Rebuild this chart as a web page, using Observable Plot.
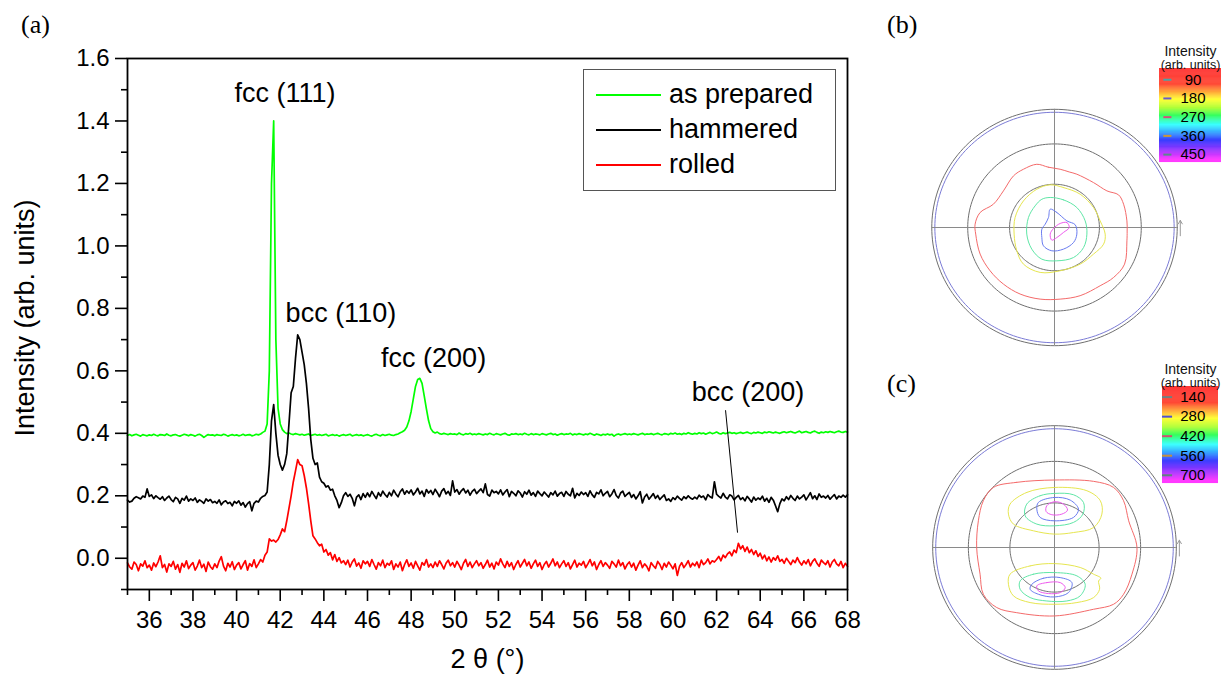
<!DOCTYPE html>
<html>
<head>
<meta charset="utf-8">
<script src="https://cdn.jsdelivr.net/npm/d3@7"></script>
<script src="https://cdn.jsdelivr.net/npm/@observablehq/plot@0.6"></script>
<style>
  html, body { margin: 0; padding: 0; background: #fff; }
  body { position: relative; width: 1227px; height: 682px; overflow: hidden; font-family: "Liberation Sans", Arial, sans-serif; }
  .abs { position: absolute; }
  .panel-tag { position: absolute; font-family: "Liberation Serif", "Times New Roman", serif; font-size: 26px; line-height: 1; color: #000; }
  #legend { position: absolute; left: 583px; top: 69px; width: 251px; height: 120px; border: 1px solid #555; background: #fff; }
  #legend .key { position: absolute; left: 12px; width: 65px; height: 2px; }
  #legend .name { position: absolute; left: 85px; font-size: 27px; line-height: 27px; color: #000; white-space: nowrap; }
</style>
</head>
<body>
<div class="panel-tag" style="left:21px; top:12px">(a)</div>
<div class="panel-tag" style="left:887px; top:12px">(b)</div>
<div class="panel-tag" style="left:887px; top:371px">(c)</div>
<div id="main" class="abs" style="left:0; top:0"></div>
<div id="legend"></div>
<div id="poleB" class="abs" style="left:919px; top:97px"></div>
<div id="poleC" class="abs" style="left:920px; top:413px"></div>
<div id="barB" class="abs" style="left:1150px; top:34px"></div>
<div id="barC" class="abs" style="left:1150px; top:348px"></div>
<script>
// ---------------- (a) XRD patterns ----------------
// Scans start at 2θ = 35° with a 0.1° step; intensities in 10^-3 arb. units.
const twoThetaStart = 35;
const twoThetaStep = 0.1;

const asPrepared = [
  393,396,392,395,397,394,391,396,394,392, // 35
  395,393,397,394,392,396,395,393,398,394, // 36
  392,395,396,393,391,394,397,395,392,396, // 37
  394,391,395,397,393,387,392,396,394,395, // 38
  392,396,394,393,397,395,391,394,396,393, // 39
  395,392,394,397,393,395,396,392,394,397, // 40
  395,398,403,407,430,600,1200,1400,700,480, // 41
  430,412,404,399,401,398,396,399,397,395, // 42
  397,394,396,398,393,395,397,394,396,393, // 43
  395,397,392,394,396,393,395,391,394,396, // 44
  393,395,397,392,394,396,393,395,392,394, // 45
  396,393,391,395,397,394,392,396,393,395, // 46
  397,394,393,396,398,402,405,410,420,440, // 47
  470,510,550,572,576,560,520,478,440,415, // 48
  405,401,404,399,397,400,398,396,399,397, // 49
  398,396,401,397,395,399,397,400,396,398, // 50
  396,399,397,395,398,396,400,397,395,399, // 51
  397,395,398,400,396,394,398,397,399,396, // 52
  398,396,400,397,395,399,396,398,397,395, // 53
  399,397,395,398,400,396,398,394,397,399, // 54
  396,398,397,400,395,398,396,399,397,395, // 55
  398,396,400,397,394,398,396,393,397,395, // 56
  398,395,397,391,396,398,395,397,399,396, // 57
  398,396,399,397,395,398,400,396,398,397, // 58
  399,396,398,400,397,395,399,398,396,400, // 59
  398,401,397,399,396,400,398,402,399,397, // 60
  400,398,402,399,401,397,400,403,399,401, // 61
  404,400,398,402,399,401,403,400,402,399, // 62
  401,403,400,402,404,401,399,403,401,404, // 63
  402,400,404,402,405,403,401,404,402,400, // 64
  403,405,402,404,406,403,401,404,407,402, // 65
  404,406,403,401,405,407,403,400,404,402, // 66
  405,403,406,404,402,405,407,404,403,406, // 67
  404                                      // 68
];

const hammered = [
  186,180,183,192,197,194,190,199,195,222, // 35
  198,203,191,200,194,189,197,185,193,199, // 36
  188,181,195,190,176,192,186,199,183,190, // 37
  185,193,179,187,182,176,190,183,188,178, // 38
  182,176,187,171,180,184,175,179,168,182, // 39
  176,184,170,178,164,175,181,152,176,183, // 40
  180,192,198,201,212,300,440,492,400,330, // 41
  300,282,300,335,430,530,550,640,715,700, // 42
  660,620,560,480,380,320,300,305,260,245, // 43
  240,228,232,218,221,200,185,162,178,200, // 44
  210,198,205,192,168,196,203,188,207,195, // 45
  209,197,214,202,191,210,199,215,204,196, // 46
  211,200,218,206,197,213,222,205,216,208, // 47
  219,203,212,224,206,215,198,220,209,217, // 48
  204,221,210,197,215,223,206,214,201,248, // 49
  212,220,205,216,223,209,218,202,214,221, // 50
  207,215,222,210,238,204,199,218,210,214, // 51
  206,219,203,212,220,197,214,208,200,216, // 52
  209,196,213,205,218,202,210,198,215,207, // 53
  200,212,204,196,210,203,215,199,207,211, // 54
  198,214,205,200,224,193,208,201,212,204, // 55
  210,198,216,203,195,211,206,219,200,208, // 56
  214,197,206,220,201,193,209,215,198,205, // 57
  211,195,204,190,200,213,177,196,205,189, // 58
  198,207,192,201,188,196,203,185,190,182, // 59
  194,188,199,192,186,197,191,200,193,189, // 60
  196,190,202,195,199,187,204,197,193,245, // 61
  205,198,193,208,196,190,203,199,187,195, // 62
  201,188,194,184,198,190,180,196,186,193, // 63
  188,199,183,192,179,195,186,168,149,175, // 64
  190,184,197,188,201,192,185,199,190,196, // 65
  203,187,198,210,191,200,188,206,195,199, // 66
  193,201,189,197,204,190,199,195,202,196, // 67
  203                                      // 68
];

const rolled = [
  -15,-28,-35,-12,-20,-40,-18,-25,-8,-30,  // 35
  -22,-38,-15,-27,-12,8,-30,-20,-44,-18,   // 36
  -26,-10,-35,-20,-45,-16,-28,-8,-33,-22,  // 37
  -14,-38,-25,-6,-30,-19,-42,-12,-27,-35,  // 38
  -18,-30,-9,5,-25,-40,-16,-28,-11,-36,    // 39
  -22,-14,-34,-20,-8,-38,-17,-26,-5,-30,   // 40
  -18,-4,-12,10,20,62,55,58,52,60,         // 41
  75,94,85,120,160,200,245,280,316,300,    // 42
  296,265,225,175,120,72,62,50,40,45,      // 43
  20,28,10,18,-5,12,-10,2,-15,-8,          // 44
  -20,-6,-28,-12,-2,-25,-15,-32,-8,-18,    // 45
  -10,-26,-4,-20,-35,-14,-24,-6,-30,-16,   // 46
  -22,-8,-36,-18,-28,-12,-40,-20,-5,-26,   // 47
  -15,-32,-10,-24,-38,-14,-22,-4,-28,-18,  // 48
  -30,-12,-26,-8,-20,-34,-16,-6,-24,-14,   // 49
  -28,-10,-22,-36,-16,-4,-26,-12,-30,-18,  // 50
  -8,-24,-14,-32,-20,-6,-28,-16,-34,-12,   // 51
  -22,-2,-18,-30,-10,-26,-14,-36,-20,-8,   // 52
  -28,-16,-4,-24,-12,-32,-18,-6,-26,-14,   // 53
  -36,-20,-10,-28,-16,-2,-24,-12,-30,-18,  // 54
  -8,-26,-14,-34,-20,-6,-28,-16,-22,-10,   // 55
  -30,-18,-4,-24,-12,-36,-20,-8,-26,-14,   // 56
  -22,-32,-10,-18,-28,-6,-24,-14,-34,-20,  // 57
  -12,-28,-16,-38,-22,-8,-30,-18,-26,-40,  // 58
  -14,-24,-32,-10,-20,-36,-16,-28,-12,-22, // 59
  -34,-18,-55,-26,-14,-30,-20,-8,-28,-16,  // 60
  -24,-12,-30,-6,-20,-14,-2,-18,-8,-12,    // 61
  -4,6,-8,10,2,14,20,8,26,18,              // 62
  48,30,40,22,36,18,28,12,24,6,            // 63
  16,-2,10,-8,4,-12,2,-6,8,-10,            // 64
  -4,-16,0,-10,-20,-6,-14,2,-12,-22,       // 65
  -8,-18,-4,-24,-10,-2,-16,-26,-6,-14,     // 66
  -20,-8,-28,-12,-4,-18,-24,-10,-30,-16,   // 67
  -26                                      // 68
];

const sampleNames = ["as prepared", "hammered", "rolled"];
const sampleColors = ["#00ff00", "#000000", "#ff0000"];

const xMajorTicks = [36, 38, 40, 42, 44, 46, 48, 50, 52, 54, 56, 58, 60, 62, 64, 66, 68];
const xMinorTicks = [35, 37, 39, 41, 43, 45, 47, 49, 51, 53, 55, 57, 59, 61, 63, 65, 67];
const yMajorTicks = [0, 0.2, 0.4, 0.6, 0.8, 1.0, 1.2, 1.4, 1.6];
const yMinorTicks = [-0.1, 0.1, 0.3, 0.5, 0.7, 0.9, 1.1, 1.3, 1.5];

// Reflection labels placed in data coordinates (2θ, intensity)
const peakLabels = [
  {label: "fcc (111)", x: 42.22, y: 1.488},
  {label: "bcc (110)", x: 44.78, y: 0.784},
  {label: "fcc (200)", x: 49.03, y: 0.640},
  {label: "bcc (200)", x: 63.44, y: 0.531}
];
const bcc200Leader = [{x1: 62.41, y1: 0.474, x2: 62.96, y2: 0.082}];

const scanRows = [];
[asPrepared, hammered, rolled].forEach((values, k) => {
  values.forEach((v, i) => {
    scanRows.push({
      twoTheta: +(twoThetaStart + i * twoThetaStep).toFixed(1),
      intensity: v / 1000,
      sample: sampleNames[k]
    });
  });
});

const plotStyle = {
  background: "transparent",
  overflow: "visible",
  maxWidth: "none",
  color: "#000",
  fontFamily: "'Liberation Sans', Arial, sans-serif"
};

const mainPlot = Plot.plot({
  width: 870,
  height: 682,
  marginLeft: 127,
  marginRight: 23,
  marginTop: 58,
  marginBottom: 93,
  style: {...plotStyle, fontSize: "24px"},
  x: {domain: [35, 68]},
  y: {domain: [-0.1, 1.6]},
  color: {domain: sampleNames, range: sampleColors},
  marks: [
    Plot.axisX({ticks: xMajorTicks, tickSize: 12, tickPadding: 9, fontSize: 24, strokeWidth: 1.6, label: null}),
    Plot.axisX({ticks: xMinorTicks, tickSize: 6, text: null, strokeWidth: 1.6, label: null}),
    Plot.axisY({ticks: yMajorTicks, tickSize: 12, tickPadding: 6, tickFormat: d3.format(".1f"), fontSize: 24, strokeWidth: 1.6, label: null}),
    Plot.axisY({ticks: yMinorTicks, tickSize: 6, text: null, strokeWidth: 1.6, label: null}),
    Plot.line(scanRows, {x: "twoTheta", y: "intensity", z: "sample", stroke: "sample", strokeWidth: 1.7}),
    Plot.frame({stroke: "#000", strokeWidth: 1.8}),
    Plot.text(peakLabels, {x: "x", y: "y", text: "label", fontSize: 27, fill: "#000"}),
    Plot.link(bcc200Leader, {x1: "x1", y1: "y1", x2: "x2", y2: "y2", stroke: "#000", strokeWidth: 1}),
    Plot.text(["Intensity (arb. units)"], {text: d => d, frameAnchor: "left", textAnchor: "middle", dx: -102, dy: -6, rotate: -90, fontSize: 27, fill: "#000"}),
    Plot.text(["2 θ (°)"], {text: d => d, frameAnchor: "bottom", textAnchor: "middle", dy: 78, fontSize: 27, fill: "#000"})
  ]
});
document.getElementById("main").appendChild(mainPlot);

// Legend of the three samples
const legend = document.getElementById("legend");
sampleNames.forEach((name, i) => {
  const lineY = 25 + i * 35;
  const key = document.createElement("div");
  key.className = "key";
  key.style.top = (lineY - 1) + "px";
  key.style.background = sampleColors[i];
  legend.appendChild(key);
  const label = document.createElement("div");
  label.className = "name";
  label.style.top = (lineY - 14) + "px";
  label.textContent = name;
  legend.appendChild(label);
});

// ---------------- (b), (c) pole figures ----------------
// Equal-area projection: tilt rings at ψ = 30°, 60°, 90°
const ringTilts = [30, 60, 90];
const measuredEdge = 0.975;          // blue ring: edge of measured area
const ringRadii = ringTilts.map(psi => Math.SQRT2 * Math.sin(psi * Math.PI / 360));

// Contour lines (x, y in units of the outer ring radius)
const levelsB = [90, 180, 270, 360, 450];
const poleB_90 = [[-0.144,0.535],[-0.05,0.51],[0.046,0.493],[0.12,0.47],[0.182,0.451],[0.318,0.380],[0.427,0.310],[0.522,0.276],[0.563,0.197],[0.590,0.056],[0.592,-0.03],[0.590,-0.113],[0.571,-0.310],[0.481,-0.423],[0.372,-0.493],[0.209,-0.577],[0.046,-0.606],[-0.117,-0.606],[-0.280,-0.563],[-0.416,-0.479],[-0.525,-0.366],[-0.606,-0.225],[-0.642,-0.056],[-0.647,0.028],[-0.606,0.127],[-0.498,0.197],[-0.416,0.310],[-0.334,0.437],[-0.253,0.493]];
const poleB_180 = [[-0.035,0.361],[0.073,0.338],[0.209,0.282],[0.318,0.169],[0.372,0.056],[0.413,-0.056],[0.400,-0.141],[0.318,-0.225],[0.209,-0.310],[0.046,-0.366],[-0.117,-0.380],[-0.253,-0.310],[-0.307,-0.197],[-0.329,-0.056],[-0.321,0.085],[-0.253,0.225],[-0.144,0.324]];
const poleB_270 = [[-0.035,0.254],[0.073,0.234],[0.182,0.169],[0.250,0.056],[0.264,-0.056],[0.237,-0.169],[0.155,-0.254],[0.019,-0.282],[-0.103,-0.268],[-0.185,-0.183],[-0.226,-0.056],[-0.212,0.085],[-0.158,0.183],[-0.103,0.239]];
const poleB_360 = [[-0.035,0.155],[0.019,0.127],[0.101,0.056],[0.169,0.023],[0.182,-0.056],[0.155,-0.127],[0.073,-0.183],[-0.022,-0.197],[-0.090,-0.155],[-0.103,-0.085],[-0.103,-0.014],[-0.076,0.028],[-0.049,0.085]];
const poleB_450 = [[0.046,0.034],[0.101,0.042],[0.120,0.0],[0.073,-0.042],[0.019,-0.085],[-0.022,-0.107],[-0.035,-0.056],[-0.008,-0.008]];

const levelsC = [140, 280, 420, 560, 700];
const poleC_140 = [[-0.502,0.493],[-0.310,0.535],[0.0,0.554],[0.321,0.543],[0.485,0.493],[0.567,0.384],[0.609,0.219],[0.677,0.0],[0.636,-0.219],[0.567,-0.384],[0.485,-0.466],[0.321,-0.507],[0.0,-0.562],[-0.310,-0.535],[-0.474,-0.493],[-0.584,-0.384],[-0.611,-0.219],[-0.639,0.0],[-0.625,0.219],[-0.584,0.384]];
const poleC_280a = [[-0.365,0.356],[-0.228,0.452],[0.0,0.493],[0.266,0.466],[0.376,0.384],[0.389,0.274],[0.321,0.164],[0.156,0.123],[0.0,0.110],[-0.173,0.137],[-0.337,0.192],[-0.378,0.274]];
const poleC_280b = [[-0.365,-0.219],[-0.200,-0.151],[0.0,-0.132],[0.211,-0.164],[0.321,-0.219],[0.381,-0.252],[0.362,-0.274],[0.370,-0.343],[0.321,-0.411],[0.184,-0.452],[0.0,-0.466],[-0.200,-0.452],[-0.337,-0.397],[-0.378,-0.302]];
const poleC_420a = [[-0.228,0.356],[-0.118,0.425],[0.0,0.444],[0.156,0.433],[0.238,0.370],[0.233,0.274],[0.156,0.206],[0.0,0.178],[-0.145,0.192],[-0.241,0.260]];
const poleC_420b = [[-0.282,-0.274],[-0.173,-0.219],[0.0,-0.206],[0.184,-0.233],[0.252,-0.302],[0.211,-0.397],[0.101,-0.439],[-0.063,-0.439],[-0.200,-0.411],[-0.282,-0.343]];
const poleC_560a = [[-0.132,0.370],[0.0,0.411],[0.129,0.389],[0.197,0.315],[0.156,0.247],[0.0,0.219],[-0.118,0.247],[-0.145,0.315]];
const poleC_560b = [[-0.186,-0.302],[-0.090,-0.252],[0.047,-0.247],[0.143,-0.288],[0.115,-0.370],[0.0,-0.406],[-0.132,-0.384],[-0.200,-0.343]];
const poleC_700a = [[-0.063,0.343],[0.0,0.376],[0.074,0.356],[0.107,0.307],[0.060,0.274],[-0.022,0.269],[-0.069,0.296]];
const poleC_700b = [[-0.145,-0.315],[-0.063,-0.288],[0.047,-0.288],[0.088,-0.329],[0.047,-0.370],[-0.049,-0.378],[-0.132,-0.356]];

const contourColors = ["#f46a6a", "#e6e650", "#5fe6a6", "#6a7cf0", "#ee5cee"];

function ring(r) {
  return d3.range(0, 361, 2).map(a => [r * Math.cos(a * Math.PI / 180), r * Math.sin(a * Math.PI / 180)]);
}

function poleFigure(width, height, levels, contours) {
  const rows = [];
  contours.forEach(([level, pts], id) => pts.forEach(p => rows.push({u: p[0], v: p[1], level, id})));
  return Plot.plot({
    width, height,
    margin: 0,
    style: plotStyle,
    x: {domain: [-1.1, 1.1], axis: null},
    y: {domain: [-1.1, 1.1], axis: null},
    color: {type: "ordinal", domain: levels, range: contourColors},
    marks: [
      ...ringRadii.map(r => Plot.line(ring(r), {x: d => d[0], y: d => d[1], stroke: "#6f6f6f", strokeWidth: 1})),
      Plot.line(ring(measuredEdge), {x: d => d[0], y: d => d[1], stroke: "#7b7bd6", strokeWidth: 1}),
      Plot.ruleX([0], {y1: -1, y2: 1, stroke: "#8a8a8a", strokeWidth: 1}),
      Plot.ruleY([0], {x1: -1, x2: 1, stroke: "#8a8a8a", strokeWidth: 1}),
      Plot.arrow([{x: 1.025, y1: -0.07, y2: 0.06}], {x1: "x", x2: "x", y1: "y1", y2: "y2", stroke: "#9a9a9a", strokeWidth: 1, headLength: 6}),
      Plot.line(rows, {x: "u", y: "v", z: "id", stroke: "level", strokeWidth: 1, curve: "catmull-rom-closed"})
    ]
  });
}

document.getElementById("poleB").appendChild(poleFigure(270, 260, levelsB, [
  [90, poleB_90], [180, poleB_180], [270, poleB_270], [360, poleB_360], [450, poleB_450]
]));
document.getElementById("poleC").appendChild(poleFigure(268, 268, levelsC, [
  [140, poleC_140], [280, poleC_280a], [280, poleC_280b], [420, poleC_420a], [420, poleC_420b],
  [560, poleC_560a], [560, poleC_560b], [700, poleC_700a], [700, poleC_700b]
]));

// ---------------- colour bars ----------------
const barStops = [0, 0.17, 0.25, 0.33, 0.42, 0.5, 0.6, 0.68, 0.77, 0.87, 0.97, 1];
const barColors = ["#ff0000", "#ff1a00", "#ff8c00", "#ffff00", "#9aff00", "#00ff30", "#00ffff", "#0090ff", "#0000ff", "#8000ff", "#ff00ff", "#ff00ff"];
const tickColorsB = ["#4aa3a8", "#6a5acd", "#d4507a", "#c8963c", "#5a8a8a"];
const tickColorsC = ["#708080", "#5050d0", "#d05070", "#c09040", "#608080"];

function colorBar({lo, hi, levels, tickColors, tickX, width, height, marginLeft, marginRight, marginTop}) {
  const strips = d3.range(0, 1, 0.005);
  return Plot.plot({
    width, height, marginLeft, marginRight, marginTop, marginBottom: 0,
    style: plotStyle,
    x: {domain: [0, 1], axis: null},
    y: {domain: [hi, lo], axis: null},
    color: {type: "linear", domain: barStops, range: barColors, interpolate: "rgb"},
    marks: [
      Plot.rect(strips, {y1: t => lo + t * (hi - lo), y2: t => lo + (t + 0.0055) * (hi - lo), fill: t => t}),
      ...levels.map((lv, i) => Plot.ruleY([lv], {x1: tickX[0], x2: tickX[1], stroke: tickColors[i], strokeWidth: 2})),
      Plot.text(levels, {y: d => d, x: 0.54, text: d => String(d), fontSize: 15, fill: "#000"}),
      Plot.text(["Intensity"], {text: d => d, frameAnchor: "top", textAnchor: "middle", dy: -22, fontSize: 14, fill: "#111"}),
      Plot.text(["(arb. units)"], {text: d => d, frameAnchor: "top", textAnchor: "middle", dy: -8.5, fontSize: 12.5, fill: "#111"})
    ]
  });
}

document.getElementById("barB").appendChild(colorBar({
  lo: 36, hi: 488, levels: levelsB, tickColors: tickColorsB, tickX: [0.07, 0.2],
  width: 77, height: 128, marginLeft: 9, marginRight: 6, marginTop: 34
}));
document.getElementById("barC").appendChild(colorBar({
  lo: 64, hi: 759, levels: levelsC, tickColors: tickColorsC, tickX: [0.0, 0.18],
  width: 77, height: 135, marginLeft: 12, marginRight: 9, marginTop: 38
}));
</script>
</body>
</html>
